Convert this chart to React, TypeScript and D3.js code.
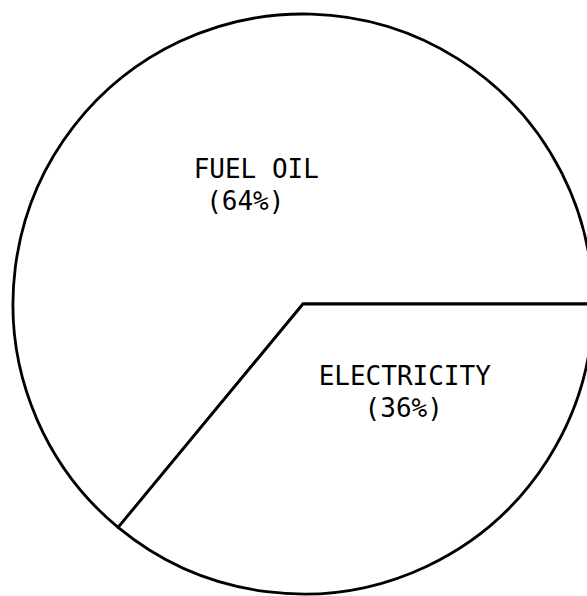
import React, { useRef, useEffect } from "react";
import * as d3 from "d3";

const categories = ["FUEL OIL", "ELECTRICITY"];
const shares = [64, 36];

export default function App() {
  const svgRef = useRef<SVGSVGElement | null>(null);

  useEffect(() => {
    document.body.style.margin = "0";
    const width = 587;
    const height = 596;
    const cx = 303;
    const cy = 304;
    const radius = 290;

    const root = d3.select(svgRef.current);
    root.selectAll("*").remove();
    root.attr("width", width).attr("height", height);

    const g = root.append("g").attr("transform", `translate(${cx},${cy})`);

    const data = categories.map((c, i) => ({ name: c, value: shares[i] }));
    const total = d3.sum(shares);
    // electricity slice begins at 3 o'clock, fuel oil fills the rest
    const start = Math.PI / 2 + (2 * Math.PI * shares[1]) / total;

    const pie = d3
      .pie<{ name: string; value: number }>()
      .value((d) => d.value)
      .sort(null)
      .startAngle(start)
      .endAngle(start + 2 * Math.PI);

    const arc = d3
      .arc<d3.PieArcDatum<{ name: string; value: number }>>()
      .innerRadius(0)
      .outerRadius(radius);

    const slices = pie(data);

    g.selectAll("path.slice")
      .data(slices)
      .enter()
      .append("path")
      .attr("class", "slice")
      .attr("d", arc)
      .attr("fill", "white")
      .attr("stroke", "black")
      .attr("stroke-width", 2.8)
      .attr("stroke-linejoin", "miter");

    // label offsets relative to each slice centroid
    const offsets = [
      { dx: 15, dy: 5, pdx: 4 },
      { dx: 40, dy: -50, pdx: 39 },
    ];

    slices.forEach((s, i) => {
      const [x, y] = arc.centroid(s);
      const o = offsets[i];
      const t = g
        .append("text")
        .attr("font-family", "'DejaVu Sans Mono', monospace")
        .attr("font-size", 26)
        .attr("text-anchor", "middle")
        .attr("fill", "black");
      t.append("tspan")
        .attr("x", x + o.dx)
        .attr("y", y + o.dy)
        .text(s.data.name);
      t.append("tspan")
        .attr("x", x + o.pdx)
        .attr("y", y + o.dy + 32)
        .text(`(${s.data.value}%)`);
    });
  }, []);

  return <svg ref={svgRef} style={{ display: "block" }}></svg>;
}
